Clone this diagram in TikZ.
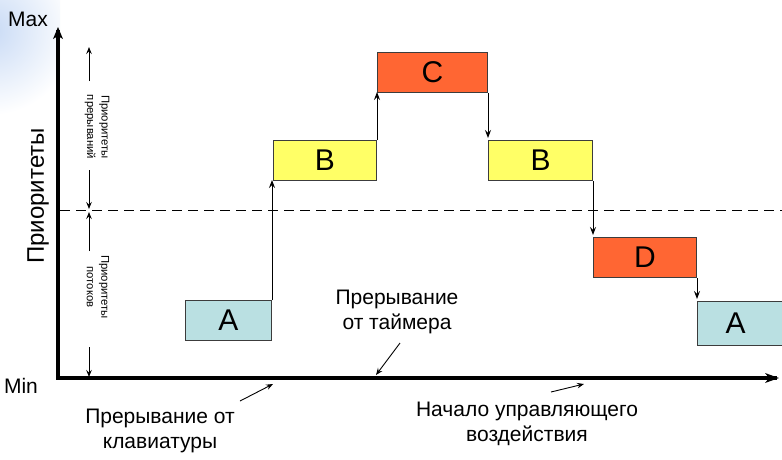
\documentclass[tikz,border=0pt]{standalone}
\usepackage{fontspec}
\setmainfont{Liberation Sans}
\usetikzlibrary{arrows.meta}
\definecolor{cyanbox}{RGB}{186,224,226}
\definecolor{yelbox}{RGB}{255,255,102}
\definecolor{orgbox}{RGB}{255,102,51}
\definecolor{edge}{RGB}{60,60,60}
\definecolor{glow}{RGB}{200,218,245}
\tikzset{
  box/.style={draw=edge, line width=1pt, minimum width=#1, minimum height=40pt, inner sep=0pt, anchor=north west, font=\fontsize{30}{32}\selectfont},
  arr/.style={-{Stealth[length=8pt,width=6pt,inset=3pt]}, line width=0.9pt},
  sarr/.style={-{Stealth[length=7pt,width=5.5pt,inset=2.5pt]}, line width=0.9pt},
  axis/.style={line width=3.2pt},
  lbl/.style={font=\fontsize{21}{24.5}\selectfont, align=center},
  small/.style={font=\fontsize{11.3}{14.5}\selectfont, align=center, rotate=-90},
}
\begin{document}
\begin{tikzpicture}[x=1pt,y=-1pt]
\useasboundingbox (0,0) rectangle (782,459);
\fill[white] (0,0) rectangle (782,459);
\begin{scope}
\clip (0,0) rectangle (60,140);
\shade[inner color=glow, outer color=white] (-10,30) circle (85);
\end{scope}
% axes
\coordinate (o) at (58,378);
\coordinate (ytop) at (58,30);
\coordinate (xend) at (777,378);
\draw[axis] (56.4,378) -- (xend) ;
\draw[axis] (58,379.6) -- (ytop);
\fill (xend) ++(2,0) -- ++(-14,-5) -- ++(4,5) -- ++(-4,5) -- cycle;
\fill (ytop) ++(0,-3) -- ++(-5,12) -- ++(5,-3) -- ++(5,3) -- cycle;
\node (max) at (28,19) {\fontsize{21}{23}\selectfont Max};
\node (min) at (21,386) {\fontsize{21}{23}\selectfont Min};
\node (prio) at (38,196) [rotate=90, font=\fontsize{24}{26}\selectfont] {Приоритеты};
% dashed line
\coordinate (d0) at (60,210);
\coordinate (d1) at (782,210);
\draw[dashed, dash pattern=on 10pt off 6pt, line width=1pt] (d0) -- (d1);
% small priority labels
\node[small] (pi) at (97,127) {Приоритеты\\прерываний};
\node[small] (pt) at (98,287) {Приоритеты\\потоков};
\coordinate (pia) at (89,81); \coordinate (pib) at (89,47);
\coordinate (pic) at (89,170); \coordinate (pid) at (89,209);
\coordinate (pie) at (89,251); \coordinate (pif) at (89,212);
\coordinate (pig) at (89,347); \coordinate (pih) at (89,377);
\draw[sarr] (pia) -- (pib);
\draw[sarr] (pic) -- (pid);
\draw[sarr] (pie) -- (pif);
\draw[sarr] (pig) -- (pih);
% boxes
\node[box=86pt, fill=cyanbox] (a1) at (185,300) {A};
\node[box=103pt, fill=yelbox] (b1) at (273,140) {B};
\node[box=110pt, fill=orgbox] (c) at (377,52) {C};
\node[box=104pt, fill=yelbox] (b2) at (488,140) {B};
\node[box=103pt, fill=orgbox] (d) at (593,237) {D};
\node[box=100pt, fill=cyanbox, minimum height=44pt] (a2) at (697,301) {\hspace*{-24pt}A};
% transitions
\draw[arr, shorten >=-1pt] (a1.north east) -- (a1.north east |- b1.south);
\draw[arr, shorten >=-1pt] (b1.north east) -- (b1.north east |- c.south);
\draw[arr, shorten >=2pt] (c.south east) -- (c.south east |- b2.north);
\draw[arr, shorten >=2pt] (b2.south east) -- (b2.south east |- d.north);
\draw[arr, shorten >=2pt] (d.south east) -- (d.south east |- a2.north);
% annotations
\node[lbl] (kb) at (160,431) {Прерывание от\\клавиатуры};
\node[lbl] (tm) at (397,312) {Прерывание\\от таймера};
\node[lbl] (st) at (527,424) {Начало управляющего\\воздействия};
\coordinate (kb0) at (240,401); \coordinate (kb1) at (273,384);
\coordinate (tm0) at (400,343); \coordinate (tm1) at (376,375);
\coordinate (st0) at (551,392); \coordinate (st1) at (584,384);
\draw[sarr] (kb0) -- (kb1);
\draw[sarr] (tm0) -- (tm1);
\draw[sarr] (st0) -- (st1);
\end{tikzpicture}
\end{document}
